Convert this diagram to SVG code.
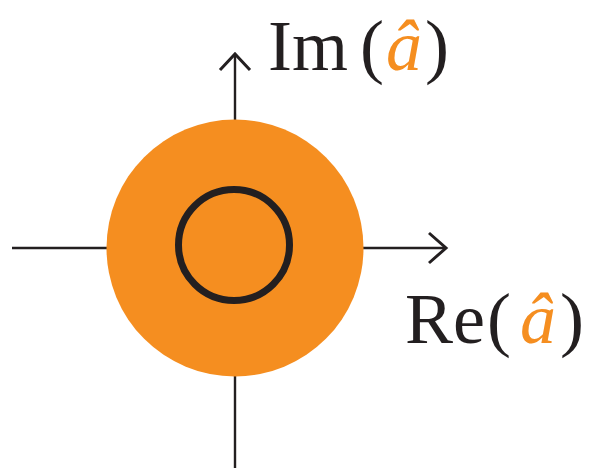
<svg xmlns="http://www.w3.org/2000/svg" width="589" height="468" viewBox="0 0 589 468">
<rect width="589" height="468" fill="#ffffff"/>
<g id="connectors" stroke="#231f20" fill="none">
<line stroke-width="2.4" x1="12" y1="248" x2="446" y2="248"/>
<polyline stroke-width="3" points="429,233 446,248 429,263"/>
<line stroke-width="2.4" x1="235" y1="54" x2="235" y2="468"/>
<polyline stroke-width="3" points="220,70 235,54 250,70"/>
</g>
<g id="disc">
<circle cx="235" cy="248" r="128.5" fill="#f58e20"/>
</g>
<g id="ring">
<circle cx="234" cy="245" r="55.5" fill="none" stroke="#231f20" stroke-width="7"/>
</g>
<g id="label-im">
<text font-family="Liberation Serif" font-size="72" fill="#231f20" x="268" y="70">Im<tspan x="360">(</tspan><tspan fill="#f58e20" font-style="italic" x="386">â</tspan><tspan x="425">)</tspan></text>
</g>
<g id="label-re">
<text font-family="Liberation Serif" font-size="72" fill="#231f20" x="405" y="343">Re<tspan x="487">(</tspan><tspan fill="#f58e20" font-style="italic" x="520">â</tspan><tspan x="560">)</tspan></text>
</g>
</svg>
